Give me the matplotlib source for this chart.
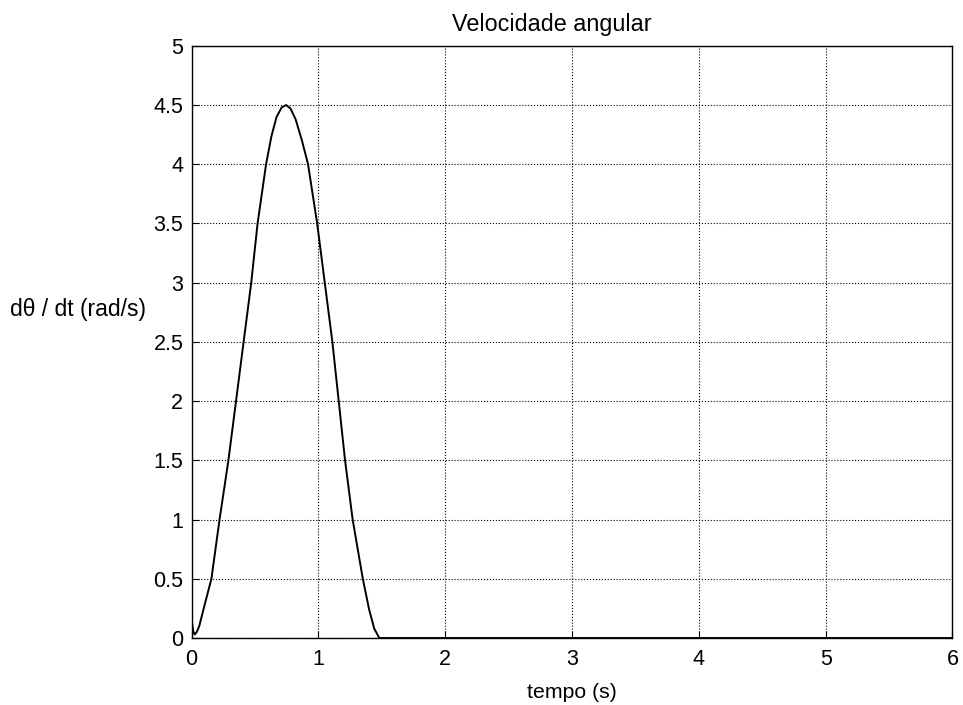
import matplotlib
matplotlib.use("Agg")
import matplotlib.pyplot as plt

plt.rcParams['font.family'] = ['Liberation Sans', 'DejaVu Sans']

# velocidade angular
t = [0.0, 0.012, 0.024, 0.04, 0.06, 0.10, 0.156, 0.22, 0.29, 0.35, 0.41, 0.47,
     0.52, 0.587, 0.63, 0.67, 0.71, 0.746, 0.78, 0.82, 0.87, 0.918, 0.99, 1.05,
     1.11, 1.16, 1.21, 1.27, 1.35, 1.40, 1.44, 1.48, 2.0, 3.0, 4.0, 5.0, 6.0]
w = [0.15, 0.06, 0.03, 0.05, 0.10, 0.27, 0.5, 1.0, 1.5, 2.0, 2.5, 3.0,
     3.5, 4.0, 4.24, 4.40, 4.48, 4.5, 4.47, 4.38, 4.2, 4.0, 3.5, 3.0,
     2.5, 2.0, 1.5, 1.0, 0.5, 0.24, 0.08, 0.0, 0.0, 0.0, 0.0, 0.0, 0.0]

xticks = [0, 1, 2, 3, 4, 5, 6]
yticks = [0, 0.5, 1, 1.5, 2, 2.5, 3, 3.5, 4, 4.5, 5]
yticklabels = ['0', '0.5', '1', '1.5', '2', '2.5', '3', '3.5', '4', '4.5', '5']

fig = plt.figure(figsize=(9.63, 7.05), dpi=100)
ax = fig.add_axes([0.199, 0.095, 0.790, 0.840])
ax.plot(t, w, color='black', linewidth=1.4)

ax.set_xlim(0, 6)
ax.set_ylim(0, 5)
ax.set_xticks(xticks)
ax.set_yticks(yticks)
ax.set_yticklabels(yticklabels)
ax.tick_params(direction='in', labelsize=15.5, length=5, color='black')
ax.tick_params(axis='x', pad=8)
ax.tick_params(axis='y', pad=6)
ax.grid(True, linestyle=':', color='black', linewidth=0.8)
for s in ax.spines.values():
    s.set_linewidth(1.0)

ax.set_title('Velocidade angular', fontsize=16.8, pad=11, x=0.474)
ax.set_xlabel('tempo (s)', fontsize=15.3, labelpad=9)
ylab = ax.set_ylabel('d\u03b8 / dt (rad/s)', fontsize=16.5, rotation=0)
ylab.set_va('center')
ax.yaxis.set_label_coords(-0.150, 0.555)

fig.savefig('out.png', dpi=100)
